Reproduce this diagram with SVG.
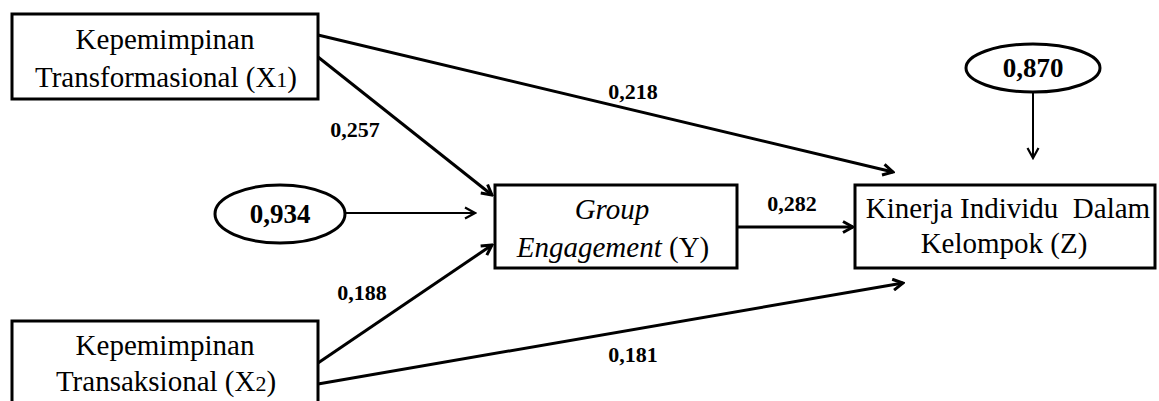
<svg xmlns="http://www.w3.org/2000/svg" width="1159" height="401" viewBox="0 0 1159 401">
<style>
.box{fill:#fff;stroke:#000;stroke-width:3}
.ell{fill:#fff;stroke:#000;stroke-width:3}
.t{font-family:"Liberation Serif","Times New Roman",serif;font-size:29px;fill:#000;text-anchor:middle}
.it{font-style:italic}
.pre{white-space:pre}
.lbl{font-family:"Liberation Serif","Times New Roman",serif;font-size:22px;font-weight:bold;fill:#000;text-anchor:middle}
.el{font-family:"Liberation Serif","Times New Roman",serif;font-size:27px;font-weight:bold;fill:#000;text-anchor:middle}
.c{stroke:#000;stroke-width:3;fill:none}
.cthin{stroke:#000;stroke-width:2;fill:none}
</style>
<defs>
<marker id="ah" viewBox="0 0 14 14" refX="12" refY="7" markerWidth="14" markerHeight="14" markerUnits="userSpaceOnUse" orient="auto">
<path d="M2,1.5 L12,7 L2,12.5" fill="none" stroke="#000" stroke-width="3"/>
</marker>
<marker id="ah2" viewBox="0 0 14 14" refX="12" refY="7" markerWidth="14" markerHeight="14" markerUnits="userSpaceOnUse" orient="auto">
<path d="M2,1.5 L12,7 L2,12.5" fill="none" stroke="#000" stroke-width="2.2"/>
</marker>
</defs>
<rect width="1159" height="401" fill="#fff"/>
<g id="connectors">
<line class="c" x1="318" y1="35" x2="893" y2="172" marker-end="url(#ah)"/>
<line class="c" x1="318" y1="57" x2="492" y2="195" marker-end="url(#ah)"/>
<line class="c" x1="318" y1="363" x2="492" y2="245" marker-end="url(#ah)"/>
<line class="c" x1="318" y1="384" x2="903" y2="283" marker-end="url(#ah)"/>
<line class="c" x1="737" y1="227" x2="853" y2="227" marker-end="url(#ah)"/>
<line class="cthin" x1="346" y1="213" x2="475" y2="213" marker-end="url(#ah2)"/>
<line class="cthin" x1="1033" y1="92" x2="1033" y2="158" marker-end="url(#ah2)"/>
<text class="lbl" x="633" y="99">0,218</text>
<text class="lbl" x="355" y="137">0,257</text>
<text class="lbl" x="362" y="300">0,188</text>
<text class="lbl" x="633" y="362">0,181</text>
<text class="lbl" x="792" y="211">0,282</text>
</g>
<g id="x1">
<rect class="box" x="12" y="14" width="306" height="85"/>
<text class="t" x="165" y="49">Kepemimpinan</text>
<text class="t" x="166" y="87">Transformasional (X<tspan font-size="22">1</tspan>)</text>
</g>
<g id="x2">
<rect class="box" x="12" y="321" width="306" height="100"/>
<text class="t" x="165" y="355">Kepemimpinan</text>
<text class="t" x="166" y="391">Transaksional (X<tspan font-size="22">2</tspan>)</text>
</g>
<g id="y">
<rect class="box" x="495" y="185" width="242" height="83"/>
<text class="t it" x="612" y="219">Group</text>
<text class="t" x="613" y="257"><tspan font-style="italic">Engagement</tspan> (Y)</text>
</g>
<g id="z">
<rect class="box" x="855" y="185" width="300" height="83"/>
<text class="t pre" x="1008" y="218">Kinerja Individu  Dalam</text>
<text class="t" x="1004" y="253">Kelompok (Z)</text>
</g>
<g id="e1">
<ellipse class="ell" cx="280" cy="214" rx="65" ry="29"/>
<text class="el" x="280" y="223">0,934</text>
</g>
<g id="e2">
<ellipse class="ell" cx="1033" cy="68" rx="67" ry="24"/>
<text class="el" x="1033" y="77">0,870</text>
</g>
</svg>
